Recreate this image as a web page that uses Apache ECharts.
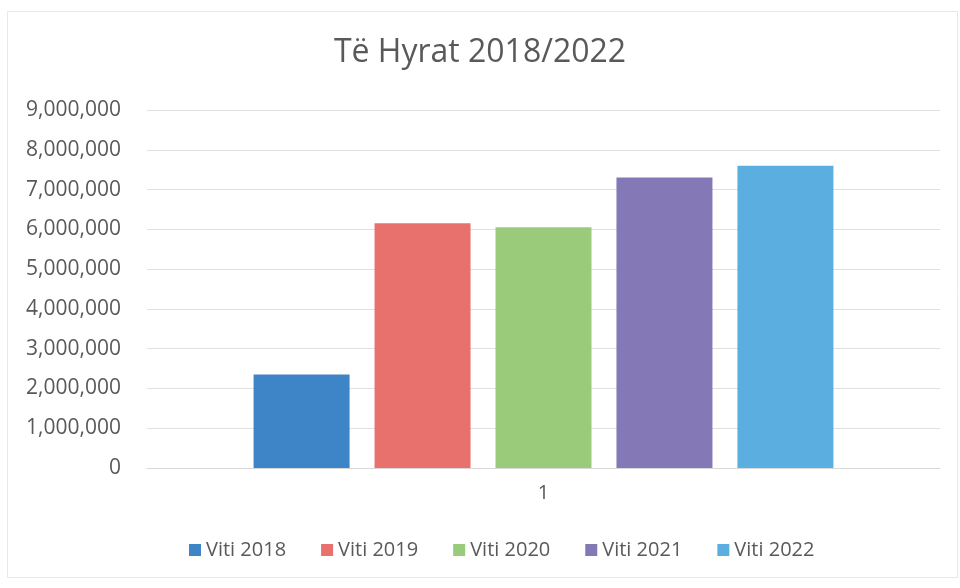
<!DOCTYPE html>
<html><head><meta charset="utf-8">
<script src="https://cdn.jsdelivr.net/npm/echarts@6/dist/echarts.min.js"></script>
<style>html,body{margin:0;padding:0;background:#fff;}#c{width:960px;height:588px;}</style>
</head><body><div id="c"></div>
<script>
const categories = ['1'];
const seriesNames = ['Viti 2018','Viti 2019','Viti 2020','Viti 2021','Viti 2022'];
const seriesValues = [2350000, 6150000, 6050000, 7300000, 7600000];
const seriesColors = ['#3d85c6','#e8716d','#9acb7b','#8478b6','#5aaee0'];
const yTicks = [0,1000000,2000000,3000000,4000000,5000000,6000000,7000000,8000000,9000000];

const chart = echarts.init(document.getElementById('c'));
const font = '"Open Sans", "Noto Sans", sans-serif';
chart.setOption({
  backgroundColor:'#fff',
  animation:false,
  graphic:[{type:'rect', shape:{x:7.5,y:11.5,width:950,height:566},
    style:{fill:'none', stroke:'#e8e8e8', lineWidth:1}, silent:true}],
  title:{text:'Të Hyrat 2018/2022', left:'center', top:32,
    textStyle:{fontFamily:font, fontSize:32, fontWeight:'normal', color:'#595959'}},
  legend:{top:535, left:184, itemWidth:12, itemHeight:12, itemGap:35,
    icon:'rect', textStyle:{fontFamily:font, fontSize:20, color:'#595959'}, data:seriesNames},
  grid:{left:147, right:20, top:110, bottom:120},
  xAxis:{type:'category', data:categories,
    axisLine:{lineStyle:{color:'#d9d9d9'}}, axisTick:{show:false},
    axisLabel:{fontFamily:font, fontSize:20, color:'#595959', margin:15}},
  yAxis:{type:'value', min:yTicks[0], max:yTicks[yTicks.length-1], interval:1000000,
    axisLine:{show:false}, axisTick:{show:false},
    splitLine:{lineStyle:{color:'#e0e0e0'}},
    axisLabel:{fontFamily:font, fontSize:21, color:'#595959', margin:26,
      formatter:v=>v.toLocaleString('en-US')}},
  series: seriesNames.map((n,i)=>({
    name:n, type:'bar', barWidth:96, barGap:'26%',
    itemStyle:{color:seriesColors[i]},
    data:[seriesValues[i]]
  }))
});
</script></body></html>
